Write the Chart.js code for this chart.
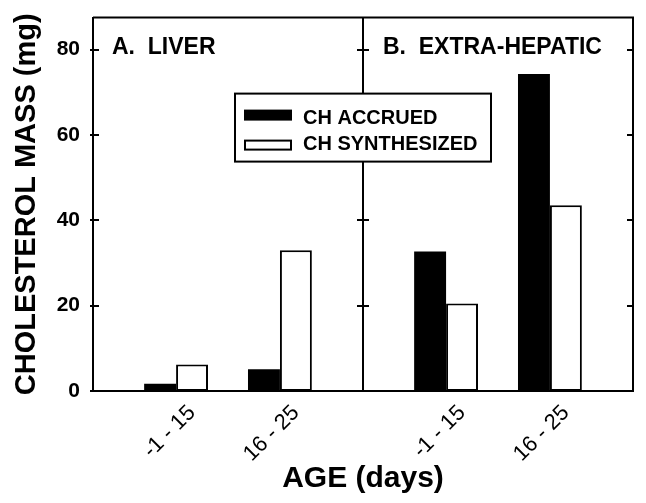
<!DOCTYPE html>
<html>
<head>
<meta charset="utf-8">
<title>Cholesterol mass</title>
<script src="https://cdn.jsdelivr.net/npm/chart.js@4.4.1/dist/chart.umd.min.js"></script>
<style>
  html, body { margin: 0; padding: 0; background: #fff; }
  canvas { display: block; }
</style>
</head>
<body>
<canvas id="chart" width="646" height="503"></canvas>
<script>
// data
const categories = ['-1 - 15', '16 - 25'];
const panels = ['A.  LIVER', 'B.  EXTRA-HEPATIC'];
const seriesNames = ['CH ACCRUED', 'CH SYNTHESIZED'];
// one row per panel (liver, extra-hepatic), one value per age category
const accrued = [[1.7, 5.1], [32.7, 74.3]];
const synthesized = [[6.2, 33.0], [20.5, 43.5]];
const yTicks = [0, 20, 40, 60, 80];

const FONT = "'Liberation Sans', Arial, Helvetica, sans-serif";
const PANEL_SPAN = 2.6;   // x units per panel
const X_MIN = 0.2;

// category c of panel p sits at x = 1 + c + p * span
const pos = (p, c) => 1 + c + p * PANEL_SPAN;
const toPoints = rows => rows.flatMap((row, p) => row.map((v, c) => ({ x: pos(p, c), y: v })));
const xTicks = panels.flatMap((_, p) => categories.map((label, c) => ({ value: pos(p, c), label })));

const overlay = {
  id: 'overlay',
  afterDraw(chart) {
    const { ctx, chartArea: a, scales: { x, y } } = chart;
    const xd = x.getPixelForValue(X_MIN + PANEL_SPAN);
    ctx.save();
    ctx.strokeStyle = '#000';
    ctx.lineWidth = 2;

    // frame top/right + panel divider
    ctx.beginPath();
    ctx.moveTo(a.left, a.top);
    ctx.lineTo(a.right, a.top);
    ctx.lineTo(a.right, a.bottom);
    ctx.moveTo(xd, a.top);
    ctx.lineTo(xd, a.bottom);
    ctx.stroke();

    // y tick marks on left axis, divider and right axis
    ctx.beginPath();
    yTicks.forEach(v => {
      const py = Math.round(y.getPixelForValue(v));
      ctx.moveTo(a.left - 3, py); ctx.lineTo(a.left + 6, py);
      ctx.moveTo(xd - 6, py); ctx.lineTo(xd + 6, py);
      ctx.moveTo(a.right - 6, py); ctx.lineTo(a.right, py);
    });
    ctx.stroke();

    // panel titles
    ctx.fillStyle = '#000';
    ctx.font = `bold 23px ${FONT}`;
    ctx.textBaseline = 'alphabetic';
    ctx.textAlign = 'left';
    ctx.fillText(panels[0], a.left + 19, a.top + 36);
    ctx.fillText(panels[1], xd + 20, a.top + 36);

    // legend box centred on the divider
    const bw = 256, bh = 68;
    const bx = xd - bw / 2, by = a.top + 76;
    ctx.fillStyle = '#fff';
    ctx.fillRect(bx, by, bw, bh);
    ctx.strokeRect(bx, by, bw, bh);
    const ds = chart.data.datasets;
    ds.forEach((d, i) => {
      const sy = by + 17 + i * 30;
      ctx.fillStyle = d.backgroundColor;
      ctx.fillRect(bx + 10, sy, 46, 9);
      ctx.strokeRect(bx + 10, sy, 46, 9);
      ctx.fillStyle = '#000';
      ctx.font = `bold 20px ${FONT}`;
      ctx.fillText(d.label, bx + 68, by + 30 + i * 26);
    });
    ctx.restore();
  }
};

new Chart(document.getElementById('chart'), {
  type: 'bar',
  data: {
    datasets: [
      {
        label: seriesNames[0],
        data: toPoints(accrued),
        backgroundColor: '#000',
        borderColor: '#000',
        borderWidth: 0
      },
      {
        label: seriesNames[1],
        data: toPoints(synthesized),
        backgroundColor: '#fff',
        borderColor: '#000',
        borderWidth: 2,
        borderSkipped: false
      }
    ]
  },
  options: {
    responsive: false,
    animation: false,
    categoryPercentage: 0.615,
    barPercentage: 1,
    layout: { padding: { top: 16, right: 13, left: 0, bottom: 0 } },
    plugins: { legend: { display: false }, tooltip: { enabled: false } },
    scales: {
      x: {
        type: 'linear',
        offset: false,
        min: X_MIN,
        max: X_MIN + 2 * PANEL_SPAN,
        grid: { display: false, offset: false },
        border: { display: true, color: '#000', width: 2 },
        afterBuildTicks: s => { s.ticks = xTicks.map(t => ({ value: t.value })); },
        afterFit: s => { s.height = 112; },
        ticks: {
          autoSkip: false,
          minRotation: 45,
          maxRotation: 45,
          padding: 1,
          labelOffset: 16,
          color: '#000',
          font: { family: FONT, size: 22 },
          callback: (v, i) => xTicks[i].label
        },
        title: {
          display: true,
          text: 'AGE (days)',
          color: '#000',
          font: { family: FONT, size: 30, weight: 'bold' },
          padding: { top: 0, bottom: 6 }
        }
      },
      y: {
        min: 0,
        max: 87.5,
        grid: { display: false },
        border: { display: true, color: '#000', width: 2 },
        afterBuildTicks: s => { s.ticks = yTicks.map(v => ({ value: v })); },
        afterFit: s => { s.width = 93; },
        ticks: {
          padding: 5,
          color: '#000',
          font: { family: FONT, size: 21, weight: 'bold' }
        },
        title: {
          display: true,
          text: 'CHOLESTEROL MASS (mg)',
          color: '#000',
          font: { family: FONT, size: 29, weight: 'bold' },
          padding: { top: 10, bottom: 0 }
        }
      }
    }
  },
  plugins: [overlay]
});
</script>
</body>
</html>
